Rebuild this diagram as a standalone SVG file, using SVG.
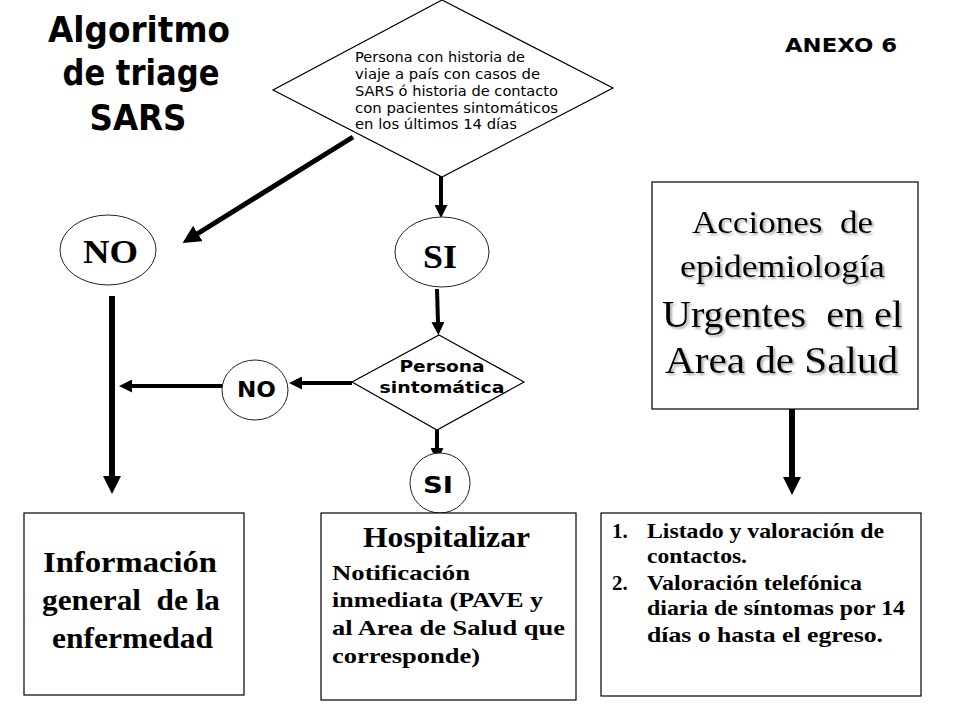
<svg xmlns="http://www.w3.org/2000/svg" width="960" height="720" viewBox="0 0 960 720">
<style>
.shape{fill:#fff;stroke:#000;stroke-width:1.2}
.ell{fill:#fff;stroke:#222;stroke-width:1}
.sans{font-family:"DejaVu Sans",Verdana,sans-serif;fill:#000}
.sb{font-family:"DejaVu Sans",Verdana,sans-serif;font-weight:bold;fill:#000}
.serif{font-family:"Liberation Serif","Times New Roman",serif;fill:#000}
.serifb{font-family:"Liberation Serif","Times New Roman",serif;font-weight:bold;fill:#000}
.conn{stroke:#000;fill:none}
</style>
<defs>
<marker id="ahBig" viewBox="0 0 18 18" refX="1" refY="9" markerWidth="18" markerHeight="18" markerUnits="userSpaceOnUse" orient="auto">
<path d="M0,0 L18,9 L0,18 z" fill="#000"/>
</marker>
<marker id="ahSmall" viewBox="0 0 13 13" refX="1" refY="6.5" markerWidth="13" markerHeight="13" markerUnits="userSpaceOnUse" orient="auto">
<path d="M0,0 L13,6.5 L0,13 z" fill="#000"/>
</marker>
<filter id="shadow" x="-10%" y="-10%" width="120%" height="130%">
<feDropShadow dx="2" dy="2" stdDeviation="1" flood-color="#777" flood-opacity="0.6"/>
</filter>
</defs>

<g id="title">
<text class="sb" x="139" y="42" font-size="35" text-anchor="middle" textLength="182" lengthAdjust="spacingAndGlyphs">Algoritmo</text>
<text class="sb" x="141" y="85" font-size="35" text-anchor="middle" textLength="157" lengthAdjust="spacingAndGlyphs">de triage</text>
<text class="sb" x="138" y="130" font-size="35" text-anchor="middle" textLength="97" lengthAdjust="spacingAndGlyphs">SARS</text>
</g>

<g id="anexo">
<text class="sb" x="785" y="52" font-size="20" textLength="112" lengthAdjust="spacingAndGlyphs">ANEXO 6</text>
</g>

<g id="connectors">
<line class="conn" x1="353" y1="137" x2="197" y2="234" stroke-width="5" marker-end="url(#ahBig)"/>
<line class="conn" x1="441" y1="172" x2="441" y2="206" stroke-width="4" marker-end="url(#ahSmall)"/>
<line class="conn" x1="437" y1="289" x2="438" y2="323" stroke-width="4" marker-end="url(#ahSmall)"/>
<line class="conn" x1="352" y1="383" x2="301" y2="383" stroke-width="4" marker-end="url(#ahSmall)"/>
<line class="conn" x1="223" y1="386" x2="131" y2="386" stroke-width="4" marker-end="url(#ahSmall)"/>
<line class="conn" x1="112" y1="296" x2="112" y2="477" stroke-width="6" marker-end="url(#ahBig)"/>
<line class="conn" x1="437" y1="430" x2="437" y2="449" stroke-width="4" marker-end="url(#ahSmall)"/>
<line class="conn" x1="792" y1="409" x2="792" y2="478" stroke-width="6" marker-end="url(#ahBig)"/>
</g>

<g id="decision1">
<polygon class="shape" points="442,0 613,88 442,177 273,90"/>
<text class="sans" font-size="14.5">
<tspan x="355" y="62" textLength="170" lengthAdjust="spacingAndGlyphs">Persona con historia de</tspan>
<tspan x="355" y="79" textLength="185" lengthAdjust="spacingAndGlyphs">viaje a país con casos de</tspan>
<tspan x="355" y="96" textLength="203" lengthAdjust="spacingAndGlyphs">SARS ó historia de contacto</tspan>
<tspan x="355" y="113" textLength="203" lengthAdjust="spacingAndGlyphs">con pacientes sintomáticos</tspan>
<tspan x="355" y="129" textLength="162" lengthAdjust="spacingAndGlyphs">en los últimos 14 días</tspan>
</text>
</g>

<g id="no1">
<ellipse class="ell" cx="108" cy="250" rx="48" ry="35"/>
<text class="serifb" x="110.5" y="263" font-size="33" text-anchor="middle" textLength="55" lengthAdjust="spacingAndGlyphs">NO</text>
</g>

<g id="si1">
<ellipse class="ell" cx="442" cy="252" rx="47" ry="35"/>
<text class="serifb" x="440" y="268" font-size="33" text-anchor="middle" textLength="34" lengthAdjust="spacingAndGlyphs">SI</text>
</g>

<g id="decision2">
<polygon class="shape" points="439,335 524,382 437,430 352,382"/>
<text class="sb" x="442" y="372" font-size="16" text-anchor="middle" textLength="85" lengthAdjust="spacingAndGlyphs">Persona</text>
<text class="sb" x="442" y="393" font-size="16" text-anchor="middle" textLength="125" lengthAdjust="spacingAndGlyphs">sintomática</text>
</g>

<g id="no2">
<ellipse class="ell" cx="255" cy="390" rx="33" ry="30"/>
<text class="sb" x="256.5" y="397" font-size="22" text-anchor="middle" textLength="39" lengthAdjust="spacingAndGlyphs">NO</text>
</g>

<g id="si2">
<ellipse class="ell" cx="440" cy="483" rx="30" ry="30"/>
<text class="sb" x="438" y="493" font-size="23" text-anchor="middle" textLength="30" lengthAdjust="spacingAndGlyphs">SI</text>
</g>

<g id="info">
<rect class="shape" x="24" y="513" width="220" height="182"/>
<text class="serifb" x="130" y="572" font-size="29" text-anchor="middle" textLength="174" lengthAdjust="spacingAndGlyphs">Información</text>
<text class="serifb" x="131" y="610" font-size="29" text-anchor="middle" textLength="178" lengthAdjust="spacingAndGlyphs" xml:space="preserve">general  de la</text>
<text class="serifb" x="132.5" y="648" font-size="29" text-anchor="middle" textLength="161" lengthAdjust="spacingAndGlyphs">enfermedad</text>
</g>

<g id="hospitalizar">
<rect class="shape" x="321" y="513" width="255" height="187"/>
<text class="serifb" x="446.5" y="547" font-size="29" text-anchor="middle" textLength="167" lengthAdjust="spacingAndGlyphs">Hospitalizar</text>
<text class="serifb" font-size="22">
<tspan x="332" y="580" textLength="138" lengthAdjust="spacingAndGlyphs">Notificación</tspan>
<tspan x="332" y="607" textLength="211" lengthAdjust="spacingAndGlyphs">inmediata (PAVE y</tspan>
<tspan x="332" y="635" textLength="233" lengthAdjust="spacingAndGlyphs">al Area de Salud que</tspan>
<tspan x="332" y="663" textLength="148" lengthAdjust="spacingAndGlyphs">corresponde)</tspan>
</text>
</g>

<g id="acciones">
<rect class="shape" x="652" y="182" width="266" height="227"/>
<g filter="url(#shadow)">
<text class="serif" x="782.5" y="233" font-size="32" text-anchor="middle" textLength="181" lengthAdjust="spacingAndGlyphs" xml:space="preserve">Acciones  de</text>
<text class="serif" x="782.5" y="277" font-size="32" text-anchor="middle" textLength="205" lengthAdjust="spacingAndGlyphs">epidemiología</text>
<text class="serif" x="782.5" y="327" font-size="38" text-anchor="middle" textLength="241" lengthAdjust="spacingAndGlyphs" xml:space="preserve">Urgentes  en el</text>
<text class="serif" x="781.5" y="373" font-size="38" text-anchor="middle" textLength="233" lengthAdjust="spacingAndGlyphs">Area de Salud</text>
</g>
</g>

<g id="lista">
<rect class="shape" x="601" y="513" width="320" height="183"/>
<text class="serifb" font-size="21">
<tspan x="612" y="538">1.</tspan>
<tspan x="647" y="538" textLength="237" lengthAdjust="spacingAndGlyphs">Listado y valoración de</tspan>
<tspan x="647" y="563" textLength="100" lengthAdjust="spacingAndGlyphs">contactos.</tspan>
<tspan x="612" y="590">2.</tspan>
<tspan x="647" y="590" textLength="215" lengthAdjust="spacingAndGlyphs">Valoración telefónica</tspan>
<tspan x="647" y="615" textLength="258" lengthAdjust="spacingAndGlyphs">diaria de síntomas por 14</tspan>
<tspan x="647" y="642" textLength="236" lengthAdjust="spacingAndGlyphs">días o hasta el egreso.</tspan>
</text>
</g>
</svg>
